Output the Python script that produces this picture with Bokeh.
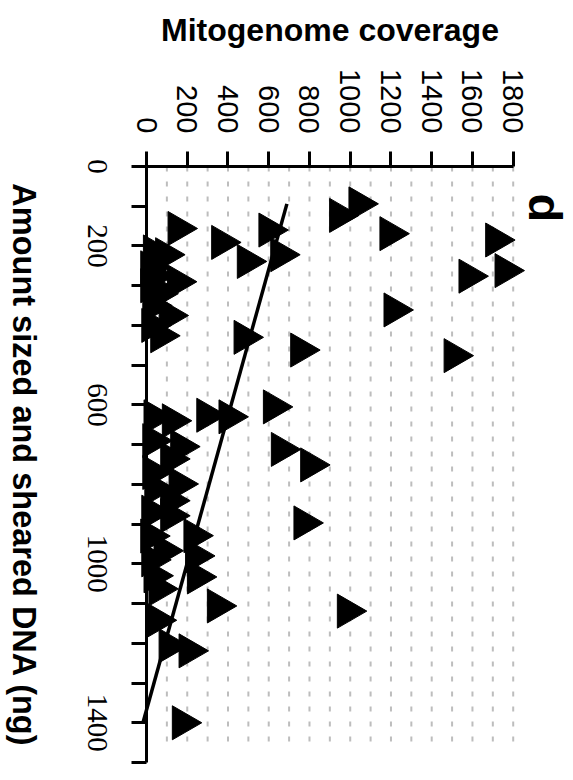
import math
from bokeh.plotting import figure
from bokeh.models import Range1d, FixedTicker, Label, ColumnDataSource
from bokeh.embed import file_html
from bokeh.resources import INLINE

# ---- data ----
coverage = [947, 1042, 1194, 1713, 1582, 1759, 1214, 1509, 756, 478, 600, 658, 368, 494,
            154, 622, 404, 295, 126, 36, 661, 805, 772, 167, 232, 240, 249, 347, 985,
            52, 208, 110, 175,
            33, 93, 20, 151, 40, 20, 60, 110, 30, 69, 25,
            30, 118, 30, 159, 118, 40, 25, 118, 20, 85, 25, 36, 60]
dna = [123, 94, 169, 185, 276, 262, 361, 476, 462, 430, 160, 222, 191, 239,
       156, 605, 630, 626, 640, 630, 712, 751, 897, 705, 929, 980, 1033, 1106, 1119,
       1142, 1219, 1206, 1400,
       215, 222, 255, 290, 275, 300, 320, 375, 350, 426, 400,
       690, 736, 770, 799, 841, 810, 870, 879, 930, 967, 990, 1030, 1063]

fit_intercept = 740.0
fit_slope = -0.541

cov_ticks = list(range(0, 1801, 200))
dna_ticks = list(range(0, 1501, 100))
dna_labelled = [0, 200, 600, 1000, 1400]
dna_tick_labels = ["0", "200", "600", "1000", "1400"]
grid_cov = list(range(100, 1801, 100))
GRID_END = 1470

FONT = "Liberation Sans"
W, H = 573, 780

# the frame fills the whole canvas; axes are pinned at coverage 0 / DNA 0
p = figure(width=W, height=H, output_backend="svg", toolbar_location=None,
           title_location=None,
           x_range=Range1d(-716.7, 2096.0), y_range=Range1d(1545.3, -417.8),
           x_axis_location="above", y_axis_location="left",
           min_border_left=0, min_border_right=0, min_border_top=0, min_border_bottom=0)
p.outline_line_color = None
p.xgrid.visible = False
p.ygrid.visible = False
p.background_fill_color = "white"
p.border_fill_color = "white"

# dashed grid lines
p.segment(x0=grid_cov, y0=[0] * len(grid_cov), x1=grid_cov, y1=[GRID_END] * len(grid_cov),
          line_color="#bdbdbd", line_width=2, line_dash="5 10")

src = ColumnDataSource(dict(coverage=coverage, dna=dna))
p.scatter(x="coverage", y="dna", source=src, marker="triangle", size=34,
          angle=-math.pi / 2, fill_color="black", line_color="black", line_width=1)

# fitted line over the DNA range
d0, d1 = min(dna), max(dna)
p.line(x=[fit_intercept + fit_slope * d0, fit_intercept + fit_slope * d1], y=[d0, d1],
       line_color="black", line_width=3.5)

# top axis (coverage)
xa = p.xaxis[0]
xa.ticker = FixedTicker(ticks=cov_ticks)
xa.fixed_location = 0
xa.bounds = (0, 1800)
xa.axis_line_width = 3
xa.major_tick_line_width = 3
xa.major_tick_out = 15
xa.major_tick_in = 0
xa.minor_tick_line_color = None
xa.major_label_orientation = -math.pi / 2
xa.major_label_text_font = FONT
xa.major_label_text_font_size = "29px"
xa.major_label_text_color = "black"
xa.major_label_standoff = 18

# left axis (DNA): ticks from the axis, rotated labels centred on their ticks
ya = p.yaxis[0]
ya.ticker = FixedTicker(ticks=dna_ticks)
ya.fixed_location = 0
ya.bounds = (0, 1500)
ya.major_label_overrides = {t: "" for t in dna_ticks}
ya.axis_line_width = 3
ya.major_tick_line_width = 3
ya.major_tick_out = 15
ya.major_tick_in = 0
ya.minor_tick_line_color = None

p.text(x=[0] * len(dna_labelled), y=dna_labelled, text=dna_tick_labels,
       angle=-math.pi / 2, x_offset=-49.5,
       text_font=FONT, text_font_size="29px", text_color="black",
       text_align="center", text_baseline="middle")

# axis titles and panel letter
p.add_layout(Label(x=329.5, y=H - 29.7, x_units="screen", y_units="screen",
                   text="Mitogenome coverage",
                   text_font=FONT, text_font_style="bold", text_font_size="32px",
                   text_align="center", text_baseline="middle", text_color="black"))
p.add_layout(Label(x=23.2, y=H - 464.5, x_units="screen", y_units="screen",
                   text="Amount sized and sheared DNA (ng)", angle=-math.pi / 2,
                   text_font=FONT, text_font_style="bold", text_font_size="32.5px",
                   text_align="center", text_baseline="middle", text_color="black"))
p.add_layout(Label(x=545, y=H - 193, x_units="screen", y_units="screen",
                   text="d", angle=-math.pi / 2,
                   text_font=FONT, text_font_style="bold", text_font_size="47px",
                   text_align="left", text_baseline="middle", text_color="black"))

open("out.html", "w").write(file_html(p, INLINE))
